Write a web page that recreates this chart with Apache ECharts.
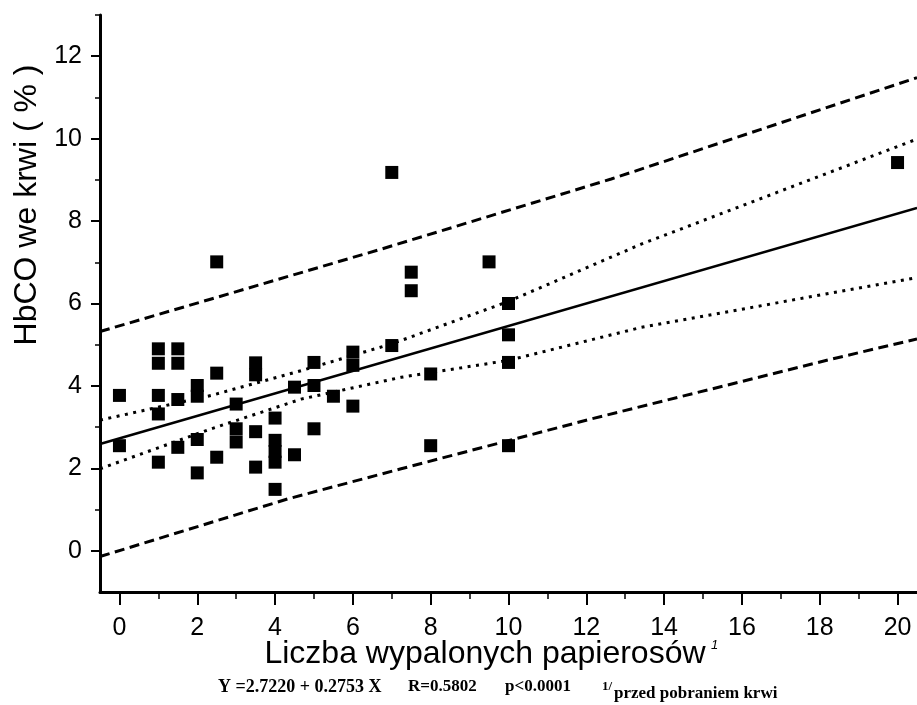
<!DOCTYPE html>
<html><head><meta charset="utf-8">
<script src="https://cdn.jsdelivr.net/npm/echarts@6/dist/echarts.min.js"></script>
<style>html,body{margin:0;padding:0;background:#fff}#c{width:917px;height:705px}</style>
</head><body><div id="c"></div>
<script>
// Axis ticks
const xTickValues = [0, 2, 4, 6, 8, 10, 12, 14, 16, 18, 20];
const xMinorTickValues = [1, 3, 5, 7, 9, 11, 13, 15, 17, 19];
const yTickValues = [0, 2, 4, 6, 8, 10, 12];
const yMinorTickValues = [1, 3, 5, 7, 9, 11, 13];

// Observations (cigarettes smoked, HbCO %)
const pointX = [0, 0,
  1, 1, 1, 1, 1,
  1.5, 1.5, 1.5, 1.5,
  2, 2, 2, 2,
  2.5, 2.5, 2.5,
  3, 3, 3,
  3.5, 3.5, 3.5, 3.5,
  4, 4, 4, 4, 4,
  4.5, 4.5,
  5, 5, 5,
  5.5,
  6, 6, 6,
  7, 7,
  7.5, 7.5,
  8, 8,
  9.5,
  10, 10, 10, 10,
  20];
const pointY = [3.77, 2.55,
  4.90, 4.55, 3.77, 3.32, 2.15,
  4.90, 4.55, 3.67, 2.51,
  4.01, 3.75, 2.70, 1.89,
  7.01, 4.31, 2.27,
  3.56, 2.96, 2.64,
  4.56, 4.27, 2.89, 2.03,
  3.22, 2.68, 2.41, 2.15, 1.49,
  3.97, 2.33,
  4.57, 4.01, 2.96,
  3.75,
  4.82, 4.50, 3.51,
  9.18, 4.98,
  6.76, 6.31,
  4.29, 2.55,
  7.01,
  6.00, 5.24, 4.57, 2.55,
  9.42];

// Regression line
const fitX = [-0.5, 20.5];
const fitY = [2.59, 8.32];
// Confidence band (dotted)
const ciUpperX = [-0.5, 2.36, 4.67, 7.0, 10, 13.41, 20.5];
const ciUpperY = [3.17, 3.77, 4.37, 5.02, 6.05, 7.44, 9.99];
const ciLowerX = [-0.5, 2.36, 4.67, 7.24, 10, 13.41, 20.5];
const ciLowerY = [1.99, 2.96, 3.68, 4.21, 4.62, 5.42, 6.63];
// Prediction band (dashed)
const piUpperX = [-0.5, 2.36, 6.73, 12.64, 20.5];
const piUpperY = [5.32, 6.11, 7.32, 9.02, 11.48];
const piLowerX = [-0.5, 4.33, 7.24, 12.13, 18.3, 20.5];
const piLowerY = [-0.14, 1.26, 1.99, 3.20, 4.65, 5.14];

const zip = (a, b) => a.map((v, i) => [v, b[i]]);

const sans = '"Liberation Sans", Arial, sans-serif';
const serif = '"Liberation Serif", "Times New Roman", serif';

function tickAxis(min, max, pos, values, len, width) {
  return {
    type: 'value', min: min, max: max, position: pos, offset: 0,
    axisLine: {show: false, onZero: false},
    axisTick: {show: true, inside: false, length: len, customValues: values,
      lineStyle: {color: '#000', width: width}},
    axisLabel: {show: false},
    splitLine: {show: false}
  };
}

const chart = echarts.init(document.getElementById('c'));
const lineBase = {type: 'line', showSymbol: false, symbol: 'none', silent: true, z: 2, animation: false,
  xAxisIndex: 0, yAxisIndex: 0};
chart.setOption({
  animation: false,
  backgroundColor: '#fff',
  grid: {left: 100, right: 0, top: 15, bottom: 113, containLabel: false},
  xAxis: [{
    type: 'value', min: -0.5, max: 20.5, position: 'bottom',
    axisLine: {show: true, onZero: false, lineStyle: {color: '#000', width: 3}},
    axisTick: {show: false},
    axisLabel: {show: true, customValues: xTickValues, margin: 24, color: '#000', fontSize: 25, fontFamily: sans},
    splitLine: {show: false}
  },
    tickAxis(-0.5, 20.5, 'bottom', xTickValues, 13, 2),
    tickAxis(-0.5, 20.5, 'bottom', xMinorTickValues, 7, 1.5)
  ],
  yAxis: [{
    type: 'value', min: -1, max: 13, position: 'left',
    axisLine: {show: true, onZero: false, lineStyle: {color: '#000', width: 3}},
    axisTick: {show: false},
    axisLabel: {show: true, customValues: yTickValues, margin: 18, color: '#000', fontSize: 25, fontFamily: sans},
    splitLine: {show: false}
  },
    tickAxis(-1, 13, 'left', yTickValues, 9, 2),
    tickAxis(-1, 13, 'left', yMinorTickValues, 5, 1.5)
  ],
  series: [
    Object.assign({}, lineBase, {name: 'piUpper', data: zip(piUpperX, piUpperY),
      lineStyle: {color: '#000', width: 3, type: [10, 5.5]}}),
    Object.assign({}, lineBase, {name: 'piLower', data: zip(piLowerX, piLowerY),
      lineStyle: {color: '#000', width: 3, type: [10, 5.5]}}),
    Object.assign({}, lineBase, {name: 'ciUpper', data: zip(ciUpperX, ciUpperY),
      lineStyle: {color: '#000', width: 3, type: [3, 5.5]}}),
    Object.assign({}, lineBase, {name: 'ciLower', data: zip(ciLowerX, ciLowerY),
      lineStyle: {color: '#000', width: 3, type: [3, 5.5]}}),
    Object.assign({}, lineBase, {name: 'fit', data: zip(fitX, fitY),
      lineStyle: {color: '#000', width: 2.5, type: 'solid'}}),
    {type: 'scatter', name: 'obs', data: zip(pointX, pointY), symbol: 'rect', symbolSize: 13,
      xAxisIndex: 0, yAxisIndex: 0,
      itemStyle: {color: '#000', opacity: 1}, z: 5, animation: false}
  ],
  graphic: [
    {type: 'text', x: 27, y: 205, rotation: Math.PI / 2,
      style: {text: 'HbCO we krwi ( % )', font: '32px ' + sans, fill: '#000', align: 'center', verticalAlign: 'middle'}},
    {type: 'text', x: 485, y: 654,
      style: {text: 'Liczba wypalonych papierosów', font: '32px ' + sans, fill: '#000', align: 'center', verticalAlign: 'middle'}},
    {type: 'text', x: 711, y: 645,
      style: {text: '1', font: 'italic 13px ' + sans, fill: '#000', align: 'left', verticalAlign: 'middle'}},
    {type: 'text', x: 218, y: 687,
      style: {text: 'Y =2.7220 + 0.2753 X', font: 'bold 18px ' + serif, fill: '#000', align: 'left', verticalAlign: 'middle'}},
    {type: 'text', x: 408, y: 687,
      style: {text: 'R=0.5802', font: 'bold 17px ' + serif, fill: '#000', align: 'left', verticalAlign: 'middle'}},
    {type: 'text', x: 505, y: 687,
      style: {text: 'p<0.0001', font: 'bold 17px ' + serif, fill: '#000', align: 'left', verticalAlign: 'middle'}},
    {type: 'text', x: 602, y: 687,
      style: {text: '1/', font: 'bold 13px ' + serif, fill: '#000', align: 'left', verticalAlign: 'middle'}},
    {type: 'text', x: 614, y: 694,
      style: {text: 'przed pobraniem krwi', font: 'bold 17px ' + serif, fill: '#000', align: 'left', verticalAlign: 'middle'}}
  ]
});
</script>
</body></html>
